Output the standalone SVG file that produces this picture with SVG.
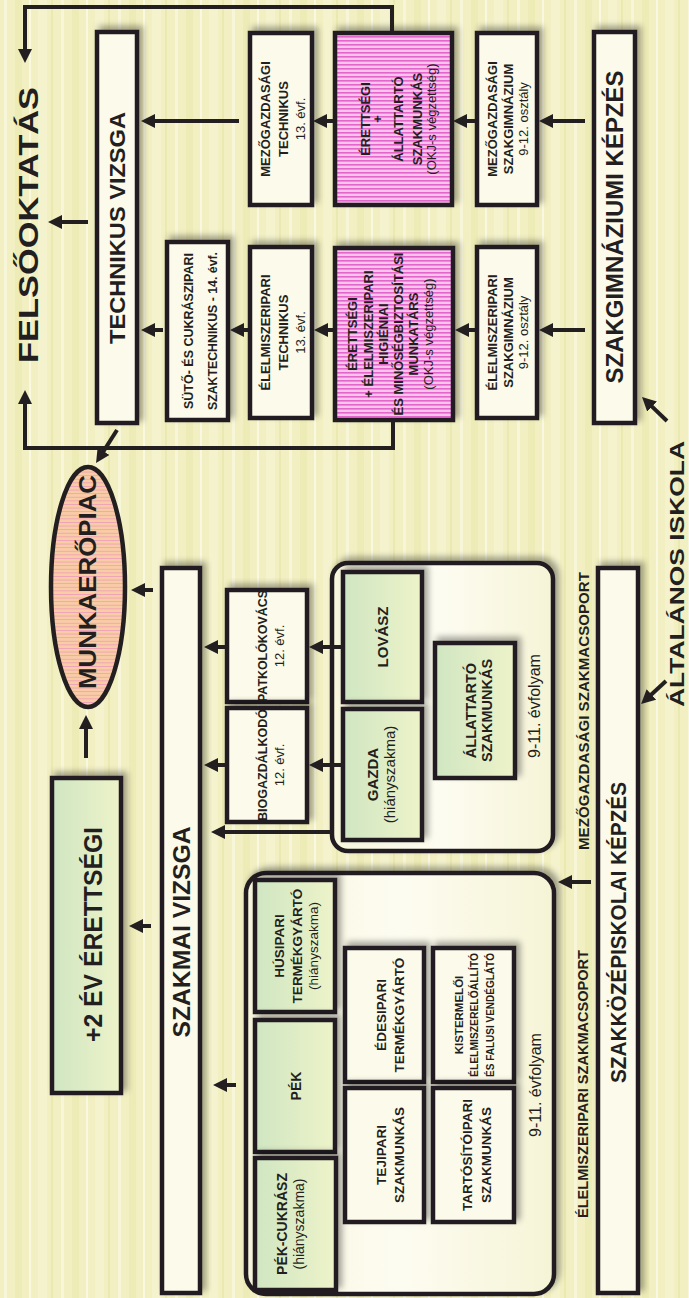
<svg xmlns="http://www.w3.org/2000/svg" width="689" height="1298" viewBox="0 0 689 1298">
<defs>
<pattern id="bg" width="57" height="1298" patternUnits="userSpaceOnUse">
<rect width="57" height="1298" fill="#f2f0c2"/>
<rect x="4" width="3" height="1298" fill="#f9f8de" opacity="0.8"/>
<rect x="15" width="7" height="1298" fill="#e9e7ad" opacity="0.6"/>
<rect x="29" width="2" height="1298" fill="#faf9e4" opacity="0.9"/>
<rect x="38" width="9" height="1298" fill="#f6f4d2" opacity="0.7"/>
<rect x="51" width="2" height="1298" fill="#e4e4a6" opacity="0.6"/>
</pattern>
<pattern id="pinkS" width="4" height="4" patternUnits="userSpaceOnUse">
<rect width="4" height="4" fill="#f7c4ec"/>
<rect width="4" height="1.6" fill="#e466cc"/>
</pattern>
<pattern id="peachS" width="4" height="3.6" patternUnits="userSpaceOnUse">
<rect width="4" height="3.6" fill="#f8cca4"/>
<rect width="4" height="0.9" fill="#f0a2b8"/>
</pattern>
<linearGradient id="green" x1="0" y1="0" x2="1" y2="0">
<stop offset="0" stop-color="#cfe6c2"/>
<stop offset="1" stop-color="#eef3c9"/>
</linearGradient>
<linearGradient id="cream" x1="0" y1="0" x2="1" y2="0">
<stop offset="0" stop-color="#f8f6dc"/>
<stop offset="0.5" stop-color="#fdfcf1"/>
<stop offset="1" stop-color="#f6f4d6"/>
</linearGradient>
<filter id="sh" x="-30%" y="-10%" width="160%" height="120%">
<feGaussianBlur in="SourceAlpha" stdDeviation="3"/>
<feOffset dx="4" dy="-4"/>
<feComponentTransfer><feFuncA type="linear" slope="0.35"/></feComponentTransfer>
<feMerge><feMergeNode/><feMergeNode in="SourceGraphic"/></feMerge>
</filter>
<marker id="ah" viewBox="0 0 14 14" refX="4" refY="7" markerWidth="14" markerHeight="14" markerUnits="userSpaceOnUse" orient="auto">
<path d="M0,0 L14,7 L0,14 z" fill="#231f20"/>
</marker>
<style>
.box{fill:#fcfaea;stroke:#231f20;stroke-width:4.5;filter:url(#sh)}
.grn{fill:url(#green);stroke:#231f20;stroke-width:4.5;filter:url(#sh)}
.pnk{fill:url(#pinkS);stroke:#231f20;stroke-width:4.5;filter:url(#sh)}
.grp{fill:url(#cream);stroke:#231f20;stroke-width:4.5;filter:url(#sh)}
.t{font-family:"Liberation Sans",Arial,sans-serif;fill:#231f20;text-anchor:middle;font-weight:bold}
.n{font-weight:normal}
.c path{fill:none;stroke:#231f20;stroke-width:4}
.c .a{marker-end:url(#ah)}
</style>
</defs>
<rect width="689" height="1298" fill="url(#bg)"/>

<g id="felsooktatas"><text class="t" font-size="28" transform="translate(28 225) rotate(-90)" y="10" textLength="276" lengthAdjust="spacingAndGlyphs">FELSŐOKTATÁS</text></g>

<g id="technikus-vizsga"><rect class="box" x="97" y="32" width="40" height="391"/><text class="t" font-size="22" transform="translate(117 228) rotate(-90)" y="8" textLength="232" lengthAdjust="spacingAndGlyphs">TECHNIKUS VIZSGA</text></g>

<g id="szakgimn-kepzes"><rect class="box" x="594" y="32" width="41" height="391"/><text class="t" font-size="23" transform="translate(614.5 227) rotate(-90)" y="8.5" textLength="313" lengthAdjust="spacingAndGlyphs">SZAKGIMNÁZIUMI KÉPZÉS</text></g>

<g id="mezo-technikus"><rect class="box" x="250" y="33" width="62" height="172"/><text class="t" font-size="13" transform="translate(281 119) rotate(-90)"><tspan x="0" y="-11">MEZŐGAZDASÁGI</tspan><tspan x="0" y="7">TECHNIKUS</tspan><tspan x="0" y="24" class="n">13. évf.</tspan></text></g>

<g id="erettsegi-allattarto"><rect class="pnk" x="335" y="33" width="117" height="172"/><text class="t" font-size="13" transform="translate(393.5 119) rotate(-90)"><tspan x="0" y="-23.5">ÉRETTSÉGI</tspan><tspan x="0" y="-12">+</tspan><tspan x="0" y="9.5">ÁLLATTARTÓ</tspan><tspan x="0" y="28">SZAKMUNKÁS</tspan><tspan x="0" y="42" class="n">(OKJ-s végzettség)</tspan></text></g>

<g id="mezo-szakgimnazium"><rect class="box" x="477" y="33" width="60" height="172"/><text class="t" font-size="13" transform="translate(507 119) rotate(-90)"><tspan x="0" y="-10">MEZŐGAZDASÁGI</tspan><tspan x="0" y="6">SZAKGIMNÁZIUM</tspan><tspan x="0" y="21" class="n">9-12. osztály</tspan></text></g>

<g id="suto-cukrasz"><rect class="box" x="167" y="242" width="61" height="178"/><text class="t" font-size="12.5" transform="translate(197.5 331) rotate(-90)"><tspan x="0" y="-4.5" textLength="156" lengthAdjust="spacingAndGlyphs">SÜTŐ- ÉS CUKRÁSZIPARI</tspan><tspan x="0" y="19" textLength="158" lengthAdjust="spacingAndGlyphs">SZAKTECHNIKUS - 14. évf.</tspan></text></g>

<g id="elelm-technikus"><rect class="box" x="250" y="247" width="62" height="171"/><text class="t" font-size="13" transform="translate(281 332.5) rotate(-90)"><tspan x="0" y="-11">ÉLELMISZERIPARI</tspan><tspan x="0" y="7">TECHNIKUS</tspan><tspan x="0" y="24" class="n">13. évf.</tspan></text></g>

<g id="erettsegi-higienia"><rect class="pnk" x="335" y="248" width="118" height="172"/><text class="t" font-size="13" transform="translate(394 334) rotate(-90)"><tspan x="0" y="-37">ÉRETTSÉGI</tspan><tspan x="0" y="-21">+ ÉLELMISZERIPARI</tspan><tspan x="0" y="-6">HIGIÉNIAI</tspan><tspan x="0" y="9" textLength="163" lengthAdjust="spacingAndGlyphs">ÉS MINŐSÉGBIZTOSÍTÁSI</tspan><tspan x="0" y="24">MUNKATÁRS</tspan><tspan x="0" y="39" class="n">(OKJ-s végzettség)</tspan></text></g>

<g id="elelm-szakgimnazium"><rect class="box" x="477" y="247" width="60" height="171"/><text class="t" font-size="13" transform="translate(507 332.5) rotate(-90)"><tspan x="0" y="-10">ÉLELMISZERIPARI</tspan><tspan x="0" y="6">SZAKGIMNÁZIUM</tspan><tspan x="0" y="21" class="n">9-12. osztály</tspan></text></g>

<g id="munkaeropiac"><ellipse cx="88" cy="587" rx="37" ry="120" fill="url(#peachS)" stroke="#231f20" stroke-width="4.5"/><text class="t" font-size="23" transform="translate(88 582) rotate(-90)" y="8" textLength="214" lengthAdjust="spacingAndGlyphs">MUNKAERŐPIAC</text></g>

<g id="ev-erettsegi"><rect class="grn" x="52" y="778" width="69" height="315"/><text class="t" font-size="26" transform="translate(92.5 934.5) rotate(-90)" y="9" textLength="215" lengthAdjust="spacingAndGlyphs">+2 ÉV ÉRETTSÉGI</text></g>

<g id="szakmai-vizsga"><rect class="box" x="162" y="568" width="38" height="725"/><text class="t" font-size="23" transform="translate(181 932) rotate(-90)" y="8.5" textLength="211" lengthAdjust="spacingAndGlyphs">SZAKMAI VIZSGA</text></g>

<g id="patkolokovacs"><rect class="box" x="227" y="590" width="80" height="112"/><text class="t" font-size="13" transform="translate(267 646) rotate(-90)"><tspan x="0" y="0" textLength="112" lengthAdjust="spacingAndGlyphs">PATKOLÓKOVÁCS</tspan><tspan x="0" y="17" class="n">12. évf.</tspan></text></g>

<g id="biogazdalkodo"><rect class="box" x="227" y="708" width="80" height="114"/><text class="t" font-size="13" transform="translate(267 765) rotate(-90)"><tspan x="0" y="0" textLength="112" lengthAdjust="spacingAndGlyphs">BIOGAZDÁLKODÓ</tspan><tspan x="0" y="17" class="n">12. évf.</tspan></text></g>

<g id="mezo-csoport"><rect class="grp" x="332" y="563" width="221" height="288" rx="16"/>
<text class="t n" font-size="16" transform="translate(535 706) rotate(-90)" y="5">9-11. évfolyam</text></g>

<g id="lovasz"><rect class="grn" x="343" y="572" width="79" height="130"/><text class="t" font-size="15" transform="translate(382.5 637) rotate(-90)" y="5.5">LOVÁSZ</text></g>

<g id="gazda"><rect class="grn" x="343" y="709" width="79" height="131"/><text class="t" font-size="15" transform="translate(382.5 774.5) rotate(-90)"><tspan x="0" y="-5">GAZDA</tspan><tspan x="0" y="12" class="n">(hiányszakma)</tspan></text></g>

<g id="allattarto"><rect class="grn" x="435" y="643" width="80" height="135"/><text class="t" font-size="14.5" transform="translate(475 710.5) rotate(-90)"><tspan x="0" y="1">ÁLLATTARTÓ</tspan><tspan x="0" y="17">SZAKMUNKÁS</tspan></text></g>

<g id="mezo-label"><text class="t" font-size="15" transform="translate(584 711) rotate(-90)" y="5" textLength="278" lengthAdjust="spacingAndGlyphs">MEZŐGAZDASÁGI SZAKMACSOPORT</text></g>

<g id="szakkozep-kepzes"><rect class="box" x="598" y="568" width="40" height="725"/><text class="t" font-size="22" transform="translate(618 932.5) rotate(-90)" y="8" textLength="301" lengthAdjust="spacingAndGlyphs">SZAKKÖZÉPISKOLAI KÉPZÉS</text></g>

<g id="elelm-csoport"><rect class="grp" x="246" y="873" width="308" height="421" rx="20"/>
<text class="t n" font-size="16" transform="translate(536 1085) rotate(-90)" y="5">9-11. évfolyam</text></g>

<g id="husipari"><rect class="grn" x="255" y="880" width="80" height="132"/><text class="t" font-size="13.5" transform="translate(295 946) rotate(-90)"><tspan x="0" y="-11.5">HÚSIPARI</tspan><tspan x="0" y="7">TERMÉKGYÁRTÓ</tspan><tspan x="0" y="23" class="n">(hiányszakma)</tspan></text></g>

<g id="pek"><rect class="grn" x="255" y="1020" width="80" height="132"/><text class="t" font-size="14" transform="translate(295 1086) rotate(-90)" y="6">PÉK</text></g>

<g id="pek-cukrasz"><rect class="grn" x="255" y="1158" width="81" height="132"/><text class="t" font-size="14" transform="translate(295.5 1224) rotate(-90)"><tspan x="0" y="-9">PÉK-CUKRÁSZ</tspan><tspan x="0" y="8" class="n">(hiányszakma)</tspan></text></g>

<g id="edesipari"><rect class="box" x="345" y="948" width="79" height="134"/><text class="t" font-size="13.5" transform="translate(384.5 1015) rotate(-90)"><tspan x="0" y="1.5">ÉDESIPARI</tspan><tspan x="0" y="19">TERMÉKGYÁRTÓ</tspan></text></g>

<g id="tejipari"><rect class="box" x="345" y="1088" width="79" height="134"/><text class="t" font-size="13.5" transform="translate(384.5 1155) rotate(-90)"><tspan x="0" y="1.5">TEJIPARI</tspan><tspan x="0" y="19">SZAKMUNKÁS</tspan></text></g>

<g id="kistermeloi"><rect class="box" x="433" y="948" width="81" height="134"/><text class="t" font-size="11.5" transform="translate(473.5 1015) rotate(-90)"><tspan x="0" y="-11">KISTERMELŐI</tspan><tspan x="0" y="4.5" textLength="124" lengthAdjust="spacingAndGlyphs">ÉLELMISZERELŐÁLLÍTÓ</tspan><tspan x="0" y="20" textLength="124" lengthAdjust="spacingAndGlyphs">ÉS FALUSI VENDÉGLÁTÓ</tspan></text></g>

<g id="tartositoipari"><rect class="box" x="433" y="1088" width="81" height="134"/><text class="t" font-size="13.5" transform="translate(473.5 1155) rotate(-90)"><tspan x="0" y="-1.5">TARTÓSÍTÓIPARI</tspan><tspan x="0" y="17">SZAKMUNKÁS</tspan></text></g>

<g id="elelm-label"><text class="t" font-size="14.5" transform="translate(583 1084) rotate(-90)" y="5" textLength="268" lengthAdjust="spacingAndGlyphs">ÉLELMISZERIPARI SZAKMACSOPORT</text></g>

<g id="altalanos-iskola"><text class="t" font-size="21" transform="translate(676 574) rotate(-90)" y="7.5" textLength="266" lengthAdjust="spacingAndGlyphs">ÁLTALÁNOS ISKOLA</text></g>

<g id="connectors" class="c">
<path class="a" d="M585,121 H549"/>
<path class="a" d="M475,121 H463"/>
<path class="a" d="M333,121 H323"/>
<path class="a" d="M239,121 H151"/>
<path class="a" d="M585,330 H549"/>
<path class="a" d="M475,330 H465"/>
<path class="a" d="M333,330 H324"/>
<path class="a" d="M248,330 H240"/>
<path class="a" d="M163,330 H151"/>
<path class="a" d="M88,222 H58"/>
<path class="a" d="M392,33 V7 H25 V53"/>
<path class="a" d="M393,420 V448 H25 V400"/>
<path class="a" d="M117,430 L101.4,454.6"/>
<path class="a" d="M153,590 H141"/>
<path class="a" d="M86,758 V725"/>
<path class="a" d="M151,926 H139"/>
<path class="a" d="M227,647 H214"/>
<path class="a" d="M227,765 H214"/>
<path class="a" d="M343,647 H319"/>
<path class="a" d="M343,765 H319"/>
<path class="a" d="M332,832 H221"/>
<path class="a" d="M236,1085 H223"/>
<path class="a" d="M591,882 H568"/>
<path class="a" d="M667,421 L649.2,403.9"/>
<path class="a" d="M666,681 L648.4,697.2"/>
</g>
</svg>
